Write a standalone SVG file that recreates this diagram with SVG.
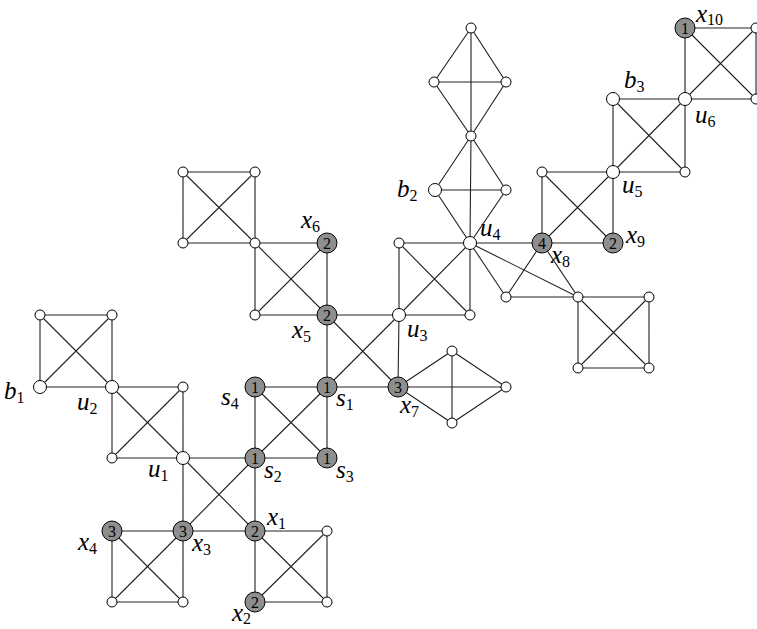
<svg xmlns="http://www.w3.org/2000/svg" width="757" height="629" viewBox="0 0 757 629">
<style>
.e{fill:none;stroke:#222;stroke-width:1.1}
.s{fill:#fff;stroke:#000;stroke-width:1}
.g{fill:#8e8e8e;stroke:#000;stroke-width:1}
.n{font-family:"Liberation Serif","DejaVu Serif",serif;font-size:16px;text-anchor:middle;fill:#000}
.l{font-family:"Liberation Serif","DejaVu Serif",serif;font-style:italic;font-size:25px;fill:#000}
.l tspan{font-style:normal;font-size:16px}
</style>
<rect width="757" height="629" fill="#fff"/>
<g id="edges" class="e">
<path d="M40 315L112 315L112 387L40 387ZM40 315L112 387M112 315L40 387"/>
<path d="M112 387L183 387L183 458L112 458ZM112 387L183 458M183 387L112 458"/>
<path d="M255 387L327 387L327 458L255 458ZM255 387L327 458M327 387L255 458"/>
<path d="M183 458L255 458L255 531L183 531ZM183 458L255 531M255 458L183 531"/>
<path d="M112 531L183 531L183 602L112 602ZM112 531L183 602M183 531L112 602"/>
<path d="M255 531L327 531L327 602L255 602ZM255 531L327 602M327 531L255 602"/>
<path d="M183 172L255 172L255 243L183 243ZM183 172L255 243M255 172L183 243"/>
<path d="M255 243L327 243L327 315L255 315ZM255 243L327 315M327 243L255 315"/>
<path d="M327 315L399 315L398 387L327 387ZM327 315L398 387M399 315L327 387"/>
<path d="M399 243L470 243L470 315L399 315ZM399 243L470 315M470 243L399 315"/>
<path d="M398 387L452 351L506 387L452 423ZM398 387L506 387M452 351L452 423"/>
<path d="M471 28L434 82L471 136L506 82ZM471 28L471 136M434 82L506 82"/>
<path d="M471 136L435 190L470 243L506 190ZM471 136L470 243M435 190L506 190"/>
<path d="M470 243L542 243L578 297L506 297ZM470 243L578 297M542 243L506 297"/>
<path d="M578 297L649 297L649 368L578 368ZM578 297L649 368M649 297L578 368"/>
<path d="M542 172L613 172L613 243L542 243ZM542 172L613 243M613 172L542 243"/>
<path d="M613 99L685 99L685 172L613 172ZM613 99L685 172M685 99L613 172"/>
<path d="M685 28L756 28L756 99L685 99ZM685 28L756 99M756 28L685 99"/>
</g>
<g id="n1"><circle class="s" cx="40" cy="315" r="5"/></g>
<g id="n2"><circle class="s" cx="112" cy="315" r="5"/></g>
<g id="n3"><circle class="s" cx="183" cy="387" r="5"/></g>
<g id="n4"><circle class="s" cx="112" cy="458" r="5"/></g>
<g id="n5"><circle class="s" cx="112" cy="602" r="5"/></g>
<g id="n6"><circle class="s" cx="183" cy="602" r="5"/></g>
<g id="n7"><circle class="s" cx="327" cy="531" r="5"/></g>
<g id="n8"><circle class="s" cx="327" cy="602" r="5"/></g>
<g id="n9"><circle class="s" cx="183" cy="172" r="5"/></g>
<g id="n10"><circle class="s" cx="255" cy="172" r="5"/></g>
<g id="n11"><circle class="s" cx="183" cy="243" r="5"/></g>
<g id="n12"><circle class="s" cx="255" cy="243" r="5"/></g>
<g id="n13"><circle class="s" cx="255" cy="315" r="5"/></g>
<g id="n14"><circle class="s" cx="399" cy="243" r="5"/></g>
<g id="n15"><circle class="s" cx="470" cy="315" r="5"/></g>
<g id="n16"><circle class="s" cx="452" cy="351" r="5"/></g>
<g id="n17"><circle class="s" cx="506" cy="387" r="5"/></g>
<g id="n18"><circle class="s" cx="452" cy="423" r="5"/></g>
<g id="n19"><circle class="s" cx="471" cy="28" r="5"/></g>
<g id="n20"><circle class="s" cx="434" cy="82" r="5"/></g>
<g id="n21"><circle class="s" cx="506" cy="82" r="5"/></g>
<g id="n22"><circle class="s" cx="471" cy="136" r="5"/></g>
<g id="n23"><circle class="s" cx="506" cy="190" r="5"/></g>
<g id="n24"><circle class="s" cx="506" cy="297" r="5"/></g>
<g id="n25"><circle class="s" cx="578" cy="297" r="5"/></g>
<g id="n26"><circle class="s" cx="649" cy="297" r="5"/></g>
<g id="n27"><circle class="s" cx="578" cy="368" r="5"/></g>
<g id="n28"><circle class="s" cx="649" cy="368" r="5"/></g>
<g id="n29"><circle class="s" cx="542" cy="172" r="5"/></g>
<g id="n30"><circle class="s" cx="685" cy="172" r="5"/></g>
<g id="n31"><circle class="s" cx="756" cy="28" r="5"/></g>
<g id="n32"><circle class="s" cx="756" cy="99" r="5"/></g>
<g id="b1"><circle class="s" cx="40" cy="387" r="6.5"/><text class="l" x="4" y="399">b<tspan dy="4">1</tspan></text></g>
<g id="u2"><circle class="s" cx="112" cy="387" r="6.5"/><text class="l" x="77" y="410">u<tspan dy="4">2</tspan></text></g>
<g id="u1"><circle class="s" cx="183" cy="458" r="6.5"/><text class="l" x="148" y="477">u<tspan dy="4">1</tspan></text></g>
<g id="u3"><circle class="s" cx="399" cy="315" r="6.5"/><text class="l" x="407" y="337">u<tspan dy="4">3</tspan></text></g>
<g id="u4"><circle class="s" cx="470" cy="243" r="6.5"/><text class="l" x="480" y="236">u<tspan dy="4">4</tspan></text></g>
<g id="b2"><circle class="s" cx="435" cy="190" r="6.5"/><text class="l" x="397" y="197">b<tspan dy="4">2</tspan></text></g>
<g id="b3"><circle class="s" cx="613" cy="99" r="6.5"/><text class="l" x="624" y="88">b<tspan dy="4">3</tspan></text></g>
<g id="u6"><circle class="s" cx="685" cy="99" r="6.5"/><text class="l" x="695" y="123">u<tspan dy="4">6</tspan></text></g>
<g id="u5"><circle class="s" cx="613" cy="172" r="6.5"/><text class="l" x="622" y="193">u<tspan dy="4">5</tspan></text></g>
<g id="s4"><circle class="g" cx="255" cy="387" r="10"/><text class="n" x="255" y="393">1</text><text class="l" x="221" y="405">s<tspan dy="4">4</tspan></text></g>
<g id="s1"><circle class="g" cx="327" cy="387" r="10"/><text class="n" x="327" y="393">1</text><text class="l" x="336" y="406">s<tspan dy="4">1</tspan></text></g>
<g id="s2"><circle class="g" cx="255" cy="458" r="10"/><text class="n" x="255" y="464">1</text><text class="l" x="264" y="478">s<tspan dy="4">2</tspan></text></g>
<g id="s3"><circle class="g" cx="327" cy="458" r="10"/><text class="n" x="327" y="464">1</text><text class="l" x="336" y="478">s<tspan dy="4">3</tspan></text></g>
<g id="x4"><circle class="g" cx="112" cy="531" r="10"/><text class="n" x="112" y="537">3</text><text class="l" x="78" y="550">x<tspan dy="4">4</tspan></text></g>
<g id="x3"><circle class="g" cx="183" cy="531" r="10"/><text class="n" x="183" y="537">3</text><text class="l" x="192" y="551">x<tspan dy="4">3</tspan></text></g>
<g id="x1"><circle class="g" cx="255" cy="531" r="10"/><text class="n" x="255" y="537">2</text><text class="l" x="267" y="525">x<tspan dy="4">1</tspan></text></g>
<g id="x2"><circle class="g" cx="255" cy="602" r="10"/><text class="n" x="255" y="608">2</text><text class="l" x="232" y="621">x<tspan dy="3">2</tspan></text></g>
<g id="x6"><circle class="g" cx="327" cy="243" r="10"/><text class="n" x="327" y="249">2</text><text class="l" x="301" y="228">x<tspan dy="4">6</tspan></text></g>
<g id="x5"><circle class="g" cx="327" cy="315" r="10"/><text class="n" x="327" y="321">2</text><text class="l" x="292" y="338">x<tspan dy="4">5</tspan></text></g>
<g id="x7"><circle class="g" cx="398" cy="387" r="10"/><text class="n" x="398" y="393">3</text><text class="l" x="400" y="413">x<tspan dy="4">7</tspan></text></g>
<g id="x8"><circle class="g" cx="542" cy="243" r="10"/><text class="n" x="542" y="249">4</text><text class="l" x="551" y="263">x<tspan dy="4">8</tspan></text></g>
<g id="x9"><circle class="g" cx="613" cy="243" r="10"/><text class="n" x="613" y="249">2</text><text class="l" x="626" y="243">x<tspan dy="4">9</tspan></text></g>
<g id="x10"><circle class="g" cx="685" cy="28" r="10"/><text class="n" x="685" y="34">1</text><text class="l" x="696" y="22">x<tspan dy="3">10</tspan></text></g>
</svg>
